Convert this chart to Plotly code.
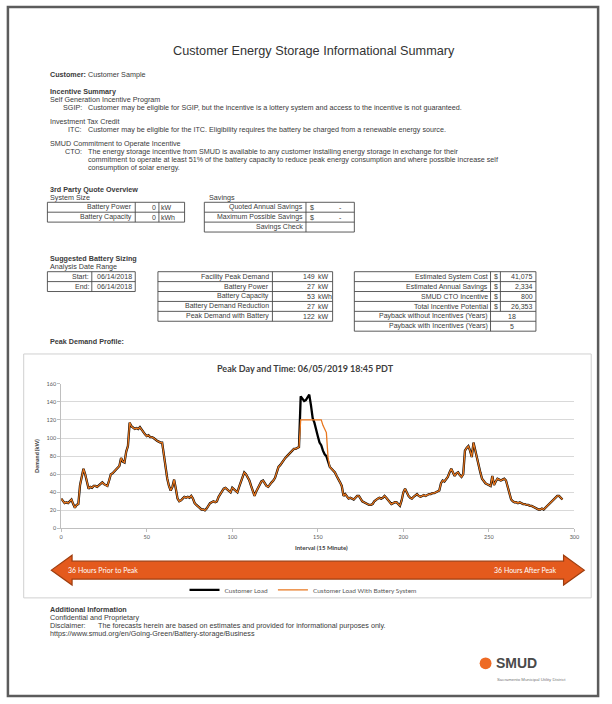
import plotly.graph_objects as go

# ---------------- data ----------------
customer_load = [
    33, 31, 28, 29, 28, 30, 32, 27, 23, 26,
    27, 48, 58, 66, 60, 50, 44, 46, 45, 47,
    47, 46, 48, 50, 51, 49, 48, 47, 53, 60,
    61, 63, 64, 66, 69, 78, 74, 73, 85, 91,
    117, 113, 111, 110, 111, 110, 112, 109, 106, 104,
    102, 103, 101, 101, 100, 98, 97, 96, 95, 95,
    80, 65, 55, 47, 42, 46, 54, 44, 33, 30,
    31, 33, 35, 34, 35, 34, 36, 33, 28, 26,
    24, 22, 21, 21, 20, 22, 25, 28, 29, 30,
    29, 30, 35, 38, 41, 44, 45, 43, 42, 40,
    45, 43, 41, 40, 46, 51, 58, 62, 60, 57,
    53, 47, 40, 36, 41, 45, 48, 52, 53, 50,
    47, 46, 49, 51, 53, 56, 62, 68, 70, 73,
    75, 78, 80, 82, 85, 87, 88, 88, 89, 90,
    146, 144, 141, 142, 145, 148, 136, 122, 117, 108,
    102, 95, 92, 86, 82, 80, 75, 68, 66, 64,
    62, 58, 55, 51, 47, 36, 38, 35, 33, 34,
    33, 32, 34, 36, 36, 33, 30, 29, 28, 27,
    26, 26, 27, 30, 32, 33, 34, 33, 34, 36,
    34, 32, 30, 27, 28, 29, 29, 27, 25, 31,
    40, 44, 40, 36, 34, 33, 35, 37, 38, 36,
    35, 36, 37, 36, 37, 38, 38, 39, 39, 40,
    41, 42, 50, 53, 52, 55, 57, 62, 66, 62,
    58, 61, 62, 59, 57, 60, 86, 89, 91, 86,
    79, 95, 86, 78, 70, 62, 55, 52, 50, 49,
    48, 47, 58, 48, 52, 55, 54, 53, 54, 55,
    53, 45, 37, 32, 30, 29, 29, 28, 29, 28,
    27, 27, 26, 26, 25, 25, 24, 23, 22, 21,
    21, 22, 21, 23, 25, 27, 29, 31, 33, 35,
    36, 36, 34, 32,
]
battery_window_start = 140
battery_window = [120, 120, 120, 120, 120, 120, 120, 120, 120, 120,
                  120, 120, 120, 114, 110, 106, 78]
with_battery = (customer_load[:battery_window_start] + battery_window
                + customer_load[battery_window_start + len(battery_window):])
intervals = list(range(len(customer_load)))

x_ticks = [0, 50, 100, 150, 200, 250, 300]
y_ticks = [0, 20, 40, 60, 80, 100, 120, 140, 160]

system_size_rows = [("Battery Power", "0", "kW"), ("Battery Capacity", "0", "kWh")]
savings_rows = [("Quoted Annual Savings", "$", "-"), ("Maximum Possible Savings", "$", "-")]
date_rows = [("Start:", "06/14/2018"), ("End:", "06/14/2018")]
sizing_rows = [("Facility Peak Demand", "149", "kW"), ("Battery Power", "27", "kW"),
               ("Battery Capacity", "53", "kWh"), ("Battery Demand Reduction", "27", "kW"),
               ("Peak Demand with Battery", "122", "kW")]
finance_rows = [("Estimated System Cost", "$", "41,075"), ("Estimated Annual Savings", "$", "2,334"),
                ("SMUD CTO Incentive", "$", "800"), ("Total Incentive Potential", "$", "26,353")]
payback_rows = [("Payback without Incentives (Years)", "18"), ("Payback with Incentives (Years)", "5")]

# ---------------- helpers ----------------
W, H = 612, 704
def X(px): return px / W
def Y(py): return 1 - py / H

FONT = "Liberation Sans, Arial, sans-serif"
CFONT = "Lato, Liberation Sans, sans-serif"
TXT = "#3a3a3a"
BODY = 7.2
TAB = 7.0
shapes = []
annos = []

def text(px, py, s, anchor="left", size=BODY, color=TXT, family=FONT):
    annos.append(dict(x=X(px), y=Y(py), xref="paper", yref="paper", text=s,
                      showarrow=False, xanchor=anchor, yanchor="middle", borderpad=0,
                      font=dict(size=size, color=color, family=family)))

def rect(x0, y0, x1, y1, color="#4a4a4a", width=0.9, fill=None):
    shapes.append(dict(type="rect", xref="paper", yref="paper", x0=X(x0), y0=Y(y1), x1=X(x1), y1=Y(y0),
                       line=dict(color=color, width=width), fillcolor=fill or "rgba(0,0,0,0)", layer="below"))

def line(x0, y0, x1, y1, color="#4a4a4a", width=0.9):
    shapes.append(dict(type="line", xref="paper", yref="paper", x0=X(x0), y0=Y(y0), x1=X(x1), y1=Y(y1),
                       line=dict(color=color, width=width), layer="below"))

# page border
rect(6, 4, 604, 699, color="#5c5c5c", width=2.5)

# title and text blocks
text(316, 48, "Customer Energy Storage Informational Summary", "center", size=12.7, color="#333")
text(48, 72, "<b>Customer:</b> Customer Sample")
text(48, 89, "<b>Incentive Summary</b>")
text(48, 97, "Self Generation Incentive Program")
text(82, 105, "SGIP:", "right")
text(86, 105, "Customer may be eligible for SGIP, but the incentive is a lottery system and access to the incentive is not guaranteed.")
text(48, 120, "Investment Tax Credit")
text(82, 128, "ITC:", "right")
text(86, 128, "Customer may be eligible for the ITC. Eligibility requires the battery be charged from a renewable energy source.")
text(48, 142, "SMUD Commitment to Operate Incentive")
text(82, 150, "CTO:", "right")
text(86, 150, "The energy storage incentive from SMUD is available to any customer installing energy storage in exchange for their")
text(86, 158, "commitment to operate at least 51% of the battery capacity to reduce peak energy consumption and where possible increase self")
text(86, 166, "consumption of solar energy.")

text(48, 188, "<b>3rd Party Quote Overview</b>")
text(48, 196, "System Size")
text(209, 196, "Savings")

# table 1 : system size
t_top, rh = 201, 10
rect(46, t_top, 185, t_top + rh * len(system_size_rows))
line(135, t_top, 135, t_top + rh * len(system_size_rows))
line(159, t_top, 159, t_top + rh * len(system_size_rows))
for i, (lab, val, unit) in enumerate(system_size_rows):
    yc = t_top + rh * i + rh / 2
    if i > 0:
        line(46, t_top + rh * i, 185, t_top + rh * i)
    text(133, yc, lab, "right", TAB)
    text(157, yc, val, "right", TAB)
    text(160, yc, unit, "left", TAB)

# table 2 : savings
rect(205, t_top, 357, t_top + rh * 3)
line(308, t_top, 308, t_top + rh * 3)
for i, (lab, cur, val) in enumerate(savings_rows):
    yc = t_top + rh * i + rh / 2
    if i > 0:
        line(205, t_top + rh * i, 357, t_top + rh * i)
    text(306, yc, lab, "right", TAB)
    text(311, yc, cur, "left", TAB)
    text(343, yc, val, "center", TAB)
line(205, t_top + rh * 2, 357, t_top + rh * 2)
text(306, t_top + rh * 2.5, "Savings Check", "right", TAB)

text(48, 258, "<b>Suggested Battery Sizing</b>")
text(48, 266, "Analysis Date Range")

t2 = 271
# table 3 : dates
rect(46, t2, 135, t2 + rh * 2)
line(91, t2, 91, t2 + rh * 2)
for i, (lab, val) in enumerate(date_rows):
    yc = t2 + rh * i + rh / 2
    if i > 0:
        line(46, t2 + rh * i, 135, t2 + rh * i)
    text(89, yc, lab, "right", TAB)
    text(133, yc, val, "right", TAB)

# table 4 : sizing
rect(158, t2, 335, t2 + rh * len(sizing_rows))
line(274, t2, 274, t2 + rh * len(sizing_rows))
for i, (lab, val, unit) in enumerate(sizing_rows):
    yc = t2 + rh * i + rh / 2
    if i > 0:
        line(158, t2 + rh * i, 335, t2 + rh * i)
    text(272, yc, lab, "right", TAB)
    text(318, yc, val, "right", TAB)
    text(319, yc, unit, "left", TAB)

# table 5 : finance
n5 = len(finance_rows) + len(payback_rows)
rect(357, t2, 541, t2 + rh * n5)
line(495, t2, 495, t2 + rh * n5)
line(505, t2, 505, t2 + rh * len(finance_rows))
for i, (lab, cur, val) in enumerate(finance_rows):
    yc = t2 + rh * i + rh / 2
    if i > 0:
        line(357, t2 + rh * i, 541, t2 + rh * i)
    text(493, yc, lab, "right", TAB)
    text(497, yc, cur, "left", TAB)
    text(539, yc, val, "right", TAB)
for j, (lab, val) in enumerate(payback_rows):
    i = len(finance_rows) + j
    yc = t2 + rh * i + rh / 2
    line(357, t2 + rh * i, 541, t2 + rh * i)
    text(493, yc, lab, "right", TAB)
    text(517, yc, val, "center", TAB)

text(48, 341, "<b>Peak Demand Profile:</b>")

# chart frame
rect(22, 354, 597, 600, color="#d0d0d0", width=1)

# chart title
text(308, 369, "<b>Peak Day and Time: 06/05/2019 18:45 PDT</b>", "center", size=9, color="#404040", family=CFONT)
text(324, 549, "<b>Interval (15 Minute)</b>", "center", size=6, color="#404040", family=CFONT)

# double arrow
ay, bh, hh, xl, xr, hl = 572, 9, 15, 50, 590, 21
pts = [(xl, ay), (xl + hl, ay - hh), (xl + hl, ay - bh), (xr - hl, ay - bh), (xr - hl, ay - hh),
       (xr, ay), (xr - hl, ay + hh), (xr - hl, ay + bh), (xl + hl, ay + bh), (xl + hl, ay + hh)]
path = "M " + " L ".join(f"{X(px):.5f},{Y(py):.5f}" for px, py in pts) + " Z"
shapes.append(dict(type="path", xref="paper", yref="paper", path=path,
                   fillcolor="#E45A1D", line=dict(color="#9E3D0E", width=1.2), layer="above"))
text(66, ay, "36 Hours Prior to Peak", "left", size=7, color="white", family=CFONT)
text(563, ay, "36 Hours After Peak", "right", size=7, color="white", family=CFONT)

# additional information
text(48, 612, "<b>Additional Information</b>")
text(48, 620, "Confidential and Proprietary")
text(48, 628, "Disclaimer:")
text(96, 628, "The forecasts herein are based on estimates and provided for informational purposes only.")
text(48, 636, "https://www.smud.org/en/Going-Green/Battery-storage/Business")

# SMUD logo
shapes.append(dict(type="circle", xref="paper", yref="paper", x0=X(484), x1=X(496), y0=Y(672), y1=Y(660),
                   fillcolor="#EE6A24", line=dict(width=0)))
text(500, 666, "<b>SMUD</b>", "left", size=14, color="#4a4a4a", family="Liberation Sans")
text(501, 682, "Sacramento Municipal Utility District", "left", size=4.3, color="#777")

# ---------------- figure ----------------
fig = go.Figure()
fig.add_trace(go.Scatter(x=intervals, y=customer_load, mode="lines", name="Customer Load",
                         line=dict(color="#000000", width=2.3)))
fig.add_trace(go.Scatter(x=intervals, y=with_battery, mode="lines", name="Customer Load With Battery System",
                         line=dict(color="#E8771F", width=1.3)))

fig.update_layout(
    width=W, height=H, margin=dict(l=0, r=0, t=0, b=0),
    paper_bgcolor="white", plot_bgcolor="white",
    shapes=shapes, annotations=annos,
    showlegend=True,
    legend=dict(orientation="h", x=X(305), y=Y(592), xanchor="center", yanchor="middle",
                font=dict(size=6.5, color="#595959", family=CFONT), bgcolor="rgba(0,0,0,0)",
                itemwidth=30, tracegroupgap=0),
    xaxis=dict(domain=[X(60), X(580)], range=[0, 300], tickvals=x_ticks, ticktext=[str(v) for v in x_ticks],
               showgrid=False, zeroline=False, showline=True, linecolor="#bfbfbf", linewidth=1,
               ticks="outside", ticklen=3, tickcolor="#bfbfbf",
               tickfont=dict(size=5.5, color="#595959", family=CFONT)),
    yaxis=dict(domain=[Y(530), Y(384)], range=[0, 160], tickvals=y_ticks,
               showgrid=True, gridcolor="#d9d9d9", gridwidth=1, zeroline=False,
               showline=True, linecolor="#bfbfbf", linewidth=1,
               ticks="outside", ticklen=3, tickcolor="#bfbfbf",
               tickfont=dict(size=5.5, color="#595959", family=CFONT),
               title=dict(text="<b>Demand (kW)</b>", font=dict(size=5.5, color="#404040", family=CFONT), standoff=6)),
)

fig.write_html("out.html", config={"displayModeBar": False},
               post_script="document.body.style.margin='0px';document.body.style.overflow='hidden';")
